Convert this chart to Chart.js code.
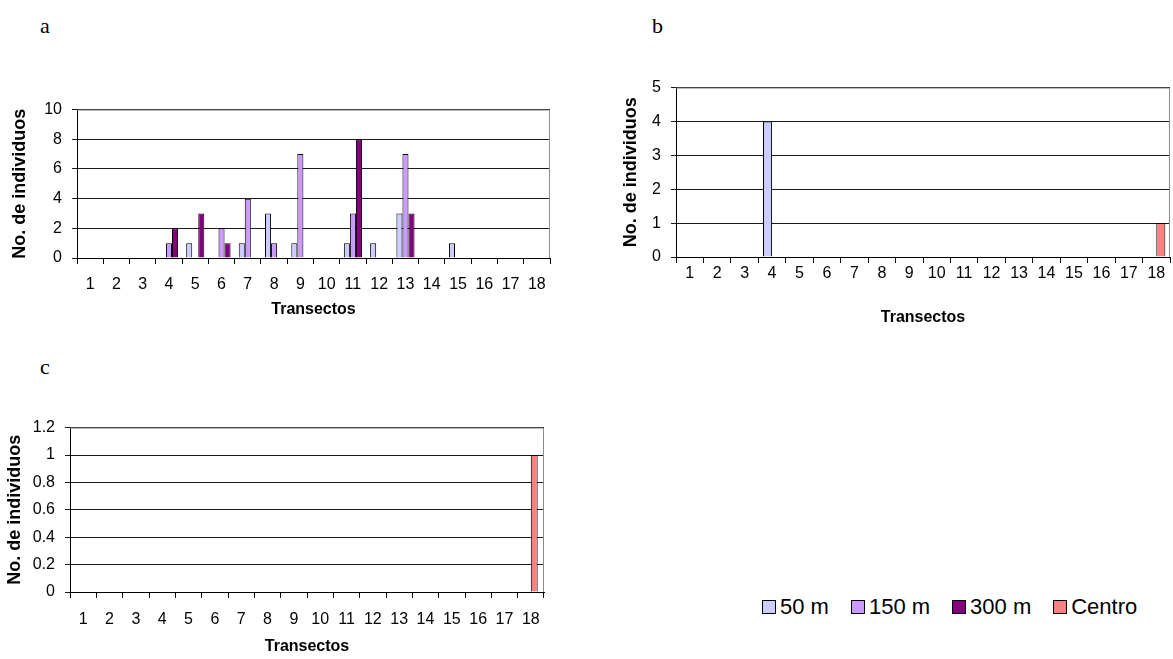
<!DOCTYPE html>
<html>
<head>
<meta charset="utf-8">
<script src="https://cdn.jsdelivr.net/npm/chart.js@4/dist/chart.umd.min.js"></script>
<style>
  html, body { margin: 0; padding: 0; background: #fff; }
  body { width: 1173px; height: 659px; position: relative; overflow: hidden; font-family: "Liberation Sans", Arial, sans-serif; }
  .panel { position: absolute; }
  .tag { position: absolute; font-family: "Liberation Serif", "Times New Roman", serif; font-size: 22px; color: #000; }
  #legend { position: absolute; left: 762px; top: 594px; display: flex; align-items: center; font-size: 22px; color: #000; white-space: nowrap; }
  #legend span.item { display: flex; align-items: center; margin-right: 22px; }
  #legend i { display: inline-block; width: 12px; height: 12px; border: 1px solid #000; margin-right: 4px; }
</style>
</head>
<body>

<div class="tag" style="left:40px; top:13px;">a</div>
<div class="tag" style="left:652px; top:13px;">b</div>
<div class="tag" style="left:40px; top:354px;">c</div>

<div class="panel" style="left:9px; top:90px; width:551px; height:229px;"><canvas id="chartA"></canvas></div>
<div class="panel" style="left:620px; top:68px; width:553px; height:259px;"><canvas id="chartB"></canvas></div>
<div class="panel" style="left:4px; top:408px; width:556px; height:248px;"><canvas id="chartC"></canvas></div>

<div id="legend"></div>

<script>
// ============================================
// Data
// ============================================

const transectos = ['1', '2', '3', '4', '5', '6', '7', '8', '9', '10', '11', '12', '13', '14', '15', '16', '17', '18'];

const seriesNames = ['50 m', '150 m', '300 m', 'Centro'];
const seriesColors = ['#CCCCFF', '#CC99FF', '#800080', '#FF8080'];

// panel a
const a50 = [0, 0, 0, 0, 1, 0, 1, 3, 1, 0, 1, 1, 3, 0, 1, 0, 0, 0];
const a150 = [0, 0, 0, 1, 0, 2, 4, 1, 7, 0, 3, 0, 7, 0, 0, 0, 0, 0];
const a300 = [0, 0, 0, 2, 3, 1, 0, 0, 0, 0, 8, 0, 3, 0, 0, 0, 0, 0];

// panel b
const b50 = [0, 0, 0, 4, 0, 0, 0, 0, 0, 0, 0, 0, 0, 0, 0, 0, 0, 0];
const bCentro = [0, 0, 0, 0, 0, 0, 0, 0, 0, 0, 0, 0, 0, 0, 0, 0, 0, 1];

// panel c
const c50 = [0, 0, 0, 0, 0, 0, 0, 0, 0, 0, 0, 0, 0, 0, 0, 0, 0, 0];
const cCentro = [0, 0, 0, 0, 0, 0, 0, 0, 0, 0, 0, 0, 0, 0, 0, 0, 0, 1];

// ============================================
// Helpers
// ============================================

const FONT = '"Liberation Sans", Arial, sans-serif';

// grey frame on top and right of the plot area, like the Excel original
const plotFrame = {
  id: 'plotFrame',
  afterDraw(chart) {
    const { ctx, chartArea: a } = chart;
    ctx.save();
    ctx.strokeStyle = '#8c8c8c';
    ctx.lineWidth = 1;
    ctx.beginPath();
    ctx.moveTo(a.left, a.top + 0.5);
    ctx.lineTo(a.right - 0.5, a.top + 0.5);
    ctx.lineTo(a.right - 0.5, a.bottom);
    ctx.stroke();
    ctx.restore();
  }
};

function dataset(name, data) {
  const i = seriesNames.indexOf(name);
  return {
    label: name,
    data: data,
    backgroundColor: seriesColors[i],
    borderColor: '#000',
    borderWidth: 1,
    borderSkipped: 'bottom'
  };
}

function buildPanel(canvasId, datasets, opts) {
  const ctx = document.getElementById(canvasId);
  return new Chart(ctx, {
    type: 'bar',
    data: { labels: transectos, datasets: datasets },
    options: {
      responsive: true,
      maintainAspectRatio: false,
      animation: false,
      layout: { padding: { top: opts.padTop, right: opts.padRight, left: 0, bottom: 0 } },
      datasets: { bar: { categoryPercentage: opts.catPct, barPercentage: 1 } },
      plugins: { legend: { display: false }, tooltip: { enabled: false } },
      scales: {
        x: {
          offset: true,
          grid: { display: true, drawOnChartArea: false, drawTicks: true, tickLength: 6, color: '#000', offset: true },
          border: { display: true, color: '#000', width: 1 },
          ticks: { color: '#000', font: { family: FONT, size: 16 }, padding: opts.xTickPad, maxRotation: 0, autoSkip: false },
          title: { display: true, text: 'Transectos', color: '#000', font: { family: FONT, size: 16, weight: 'bold' }, padding: 0 },
          afterFit(scale) { scale.height = opts.xHeight; }
        },
        y: {
          min: 0,
          max: opts.yMax,
          ticks: {
            stepSize: opts.yStep,
            color: '#000',
            font: { family: FONT, size: 16 },
            padding: 10,
            callback: v => String(Math.round(v * 10) / 10)
          },
          grid: { color: '#1a1a1a', lineWidth: 1, tickLength: 5, drawTicks: true },
          border: { display: true, color: '#000', width: 1 },
          title: { display: true, text: 'No. de individuos', color: '#000', font: { family: FONT, size: 18, weight: 'bold' }, padding: 0 },
          afterFit(scale) { scale.width = opts.yWidth; }
        }
      }
    },
    plugins: [plotFrame]
  });
}

// ============================================
// Panels
// ============================================

buildPanel('chartA', [
  dataset('50 m', a50),
  dataset('150 m', a150),
  dataset('300 m', a300)
], { padTop: 16, padRight: 10, xHeight: 61, yWidth: 68, yMax: 10, yStep: 2, catPct: 0.69, xTickPad: 11 });

buildPanel('chartB', [
  dataset('50 m', b50),
  dataset('Centro', bCentro)
], { padTop: 16, padRight: 3, xHeight: 70, yWidth: 56, yMax: 5, yStep: 1, catPct: 0.66, xTickPad: 1 });

buildPanel('chartC', [
  dataset('50 m', c50),
  dataset('Centro', cCentro)
], { padTop: 16, padRight: 16, xHeight: 64, yWidth: 66, yMax: 1.2, yStep: 0.2, catPct: 0.52, xTickPad: 12 });

// ============================================
// Shared legend
// ============================================

const legendEl = document.getElementById('legend');
seriesNames.forEach((name, i) => {
  const item = document.createElement('span');
  item.className = 'item';
  item.innerHTML = '<i style="background:' + seriesColors[i] + '"></i>' + name;
  legendEl.appendChild(item);
});
</script>
</body>
</html>
